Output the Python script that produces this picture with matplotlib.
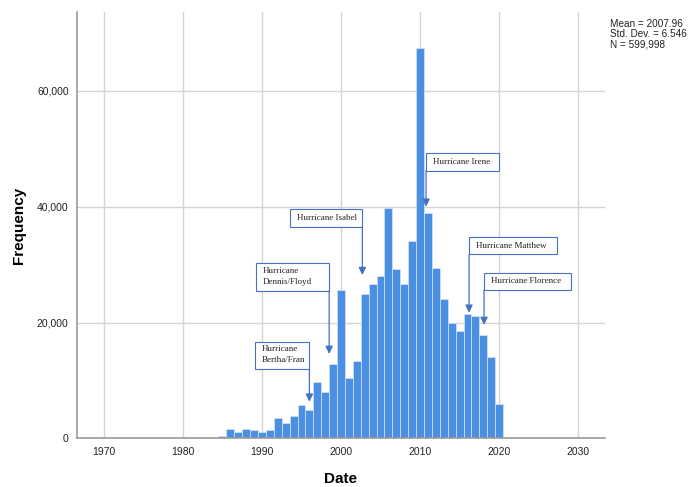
import matplotlib
matplotlib.use('Agg')
import matplotlib.pyplot as plt
from matplotlib.patches import Rectangle
from matplotlib.ticker import FuncFormatter

# histogram bins (one per year) and counts
years = list(range(1984, 2021))
counts = [100, 500, 1600, 1100, 1600, 1400, 1100, 1550, 3600, 2600,
          3900, 5700, 4900, 9800, 8000, 12900, 25700, 10400, 13300, 25000,
          26600, 28000, 39700, 29200, 26600, 34100, 67300, 38900, 29500, 24000,
          19900, 18500, 21400, 21100, 17800, 14100, 5900]

x_ticks = [1970, 1980, 1990, 2000, 2010, 2020, 2030]
y_ticks = [0, 20000, 40000, 60000]

storm_names = ["Hurricane\nBertha/Fran", "Hurricane\nDennis/Floyd", "Hurricane Isabel",
               "Hurricane Irene", "Hurricane Matthew", "Hurricane Florence"]
storm_years = [1996.0, 1998.5, 2002.7, 2010.76, 2016.2, 2018.1]
storm_tips = [6350, 14600, 28200, 40000, 21700, 19600]

stats_text = "Mean = 2007.96\nStd. Dev. = 6.546\nN = 599,998"

bar_color = '#4a8fe2'
line_blue = '#4470c8'

plt.rcParams['font.family'] = ['Liberation Sans', 'DejaVu Sans']

fig = plt.figure(figsize=(6.9, 4.87), dpi=100)
ax = fig.add_axes([0.1116, 0.0996, 0.7652, 0.8758])

ax.bar(years, counts, width=1.0, color=bar_color, edgecolor='#d6e6f8', linewidth=0.5, zorder=2)

ax.set_xlim(1966.6, 2033.4)
ax.set_ylim(0, 73600)
ax.set_xticks(x_ticks)
ax.set_yticks(y_ticks)
ax.yaxis.set_major_formatter(FuncFormatter(lambda v, p: '{:,.0f}'.format(v)))
ax.grid(True, color='#d4d4d4', linewidth=1.0, zorder=0)
ax.tick_params(length=0, labelsize=7.5, colors='#222222', pad=6)

for s in ['top', 'right']:
    ax.spines[s].set_visible(False)
for s in ['left', 'bottom']:
    ax.spines[s].set_color('#9a9a9a')
    ax.spines[s].set_linewidth(1.2)

ax.set_xlabel('Date', fontsize=11, fontweight='bold', labelpad=11)
ax.set_ylabel('Frequency', fontsize=11, fontweight='bold', labelpad=8)

# annotation boxes: (left, bottom, width, height) in data units
boxes = [
    (1989.08, 12000, 6.92, 4710),
    (1989.2, 25520, 9.3, 4730),
    (1993.54, 36570, 9.16, 3000),
    (2010.76, 46240, 9.18, 3000),
    (2016.2, 31800, 11.1, 2940),
    (2018.1, 25640, 11.0, 2990),
]

for name, sx, tip, (bx, by, bw, bh) in zip(storm_names, storm_years, storm_tips, boxes):
    ax.add_patch(Rectangle((bx, by), bw, bh, facecolor='white', edgecolor=line_blue,
                           linewidth=0.8, zorder=4))
    if '\n' in name:
        ax.text(bx + 0.9, by + bh - 600, name, fontsize=6.5, family='Liberation Serif',
                va='top', ha='left', color='#222222', zorder=5, linespacing=1.5)
    else:
        ax.text(bx + 0.9, by + bh / 2, name, fontsize=6.5, family='Liberation Serif',
                va='center', ha='left', color='#222222', zorder=5)
    ax.annotate('', xy=(sx, tip), xytext=(sx, by), zorder=5,
                arrowprops=dict(arrowstyle='-|>,head_length=0.45,head_width=0.22',
                                color=line_blue, lw=0.9, shrinkA=0, shrinkB=0))

fig.text(0.884, 0.96, stats_text, fontsize=7.2, va='top', ha='left',
         color='#222222', linespacing=1.0)

plt.savefig('out.png', dpi=100)
